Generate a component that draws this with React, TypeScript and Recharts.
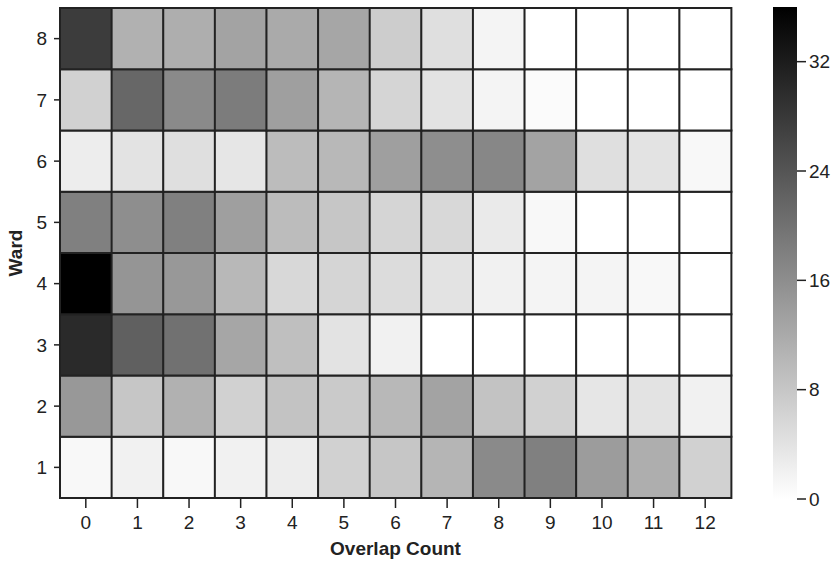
import { BarChart, Bar, Cell, XAxis, YAxis } from 'recharts'

const overlapCounts = [0, 1, 2, 3, 4, 5, 6, 7, 8, 9, 10, 11, 12]
const wards = [1, 2, 3, 4, 5, 6, 7, 8]

// counts per ward, one entry per overlap count 0..12
const ward1 = [1, 2, 1, 2, 2.5, 6.5, 8, 10.5, 16.5, 18, 14, 11.5, 6.5]
const ward2 = [14.5, 8, 11, 6.5, 8.5, 7.5, 10, 13, 8.5, 6.5, 3.5, 4, 2]
const ward3 = [30, 22.5, 20, 12.5, 9, 4, 2, 0, 0, 0, 0, 0, 0]
const ward4 = [36, 15, 14.5, 10, 5.5, 6, 5, 4, 2, 1.5, 1.5, 1, 0]
const ward5 = [18, 16, 18, 13.5, 9.5, 8, 6, 5.5, 3, 1, 0, 0, 0]
const ward6 = [2.5, 4, 4.5, 3.5, 9.5, 10, 13.5, 16, 17, 13, 4.5, 4, 1]
const ward7 = [6.5, 21.5, 16.5, 18.5, 13.5, 10.5, 6, 4, 1.5, 0.5, 0, 0, 0]
const ward8 = [27.5, 11, 11.5, 13, 12, 12.5, 7, 4.5, 1.5, 0, 0, 0, 0]

const wardValues = [ward1, ward2, ward3, ward4, ward5, ward6, ward7, ward8]

const colorbarTicks = [0, 8, 16, 24, 32]
const vmax = 36

const font = '"Liberation Sans", Arial, sans-serif'
const ink = '#222'

function shade(v: number) {
  const g = Math.round(255 * (1 - Math.min(v, vmax) / vmax))
  return `rgb(${g},${g},${g})`
}

// every cell of the grid is one unit of a stacked bar
const gridData = overlapCounts.map((c) => {
  const row: Record<string, number> = { count: c }
  wards.forEach((w) => {
    row[`w${w}`] = 1
  })
  return row
})

const wardTicks = wards.map((w) => w - 0.5)

const colorbarData = [{ name: 'scale', v: vmax }]

export default function App() {
  return (
    <div
      style={{
        position: 'absolute',
        left: 0,
        top: 0,
        width: 834,
        height: 561,
        background: '#fff',
        fontFamily: font,
      }}
    >
      <div style={{ position: 'absolute', left: 0, top: 0 }}>
        <BarChart
          width={834}
          height={561}
          data={gridData}
          margin={{ top: 8, right: 103, bottom: 0, left: 0 }}
          barCategoryGap={0}
          barGap={0}
        >
          <XAxis
            dataKey="count"
            type="category"
            axisLine={false}
            tickSize={10}
            tickMargin={8}
            height={63}
            tickLine={{ stroke: ink, strokeWidth: 1.5 }}
            tick={{ fill: ink, fontSize: 19, fontFamily: font }}
            label={{
              content: ({ viewBox }: any) => (
                <text
                  x={viewBox.x + viewBox.width / 2}
                  y={viewBox.y + 57}
                  textAnchor="middle"
                  fontSize={19}
                  fontWeight="bold"
                  fontFamily={font}
                  fill={ink}
                >
                  Overlap Count
                </text>
              ),
            }}
          />
          <YAxis
            type="number"
            domain={[0, 8]}
            ticks={wardTicks}
            interval={0}
            width={60}
            axisLine={false}
            tickSize={6}
            tickMargin={7}
            tickFormatter={(v) => String(v + 0.5)}
            tickLine={{ stroke: ink, strokeWidth: 1.5 }}
            tick={{ fill: ink, fontSize: 19, fontFamily: font }}
            label={{
              content: ({ viewBox }: any) => {
                const cx = 15
                const cy = viewBox.y + viewBox.height / 2
                return (
                  <text
                    x={cx}
                    y={cy}
                    transform={`rotate(-90 ${cx} ${cy})`}
                    textAnchor="middle"
                    dominantBaseline="central"
                    fontSize={19}
                    fontWeight="bold"
                    fontFamily={font}
                    fill={ink}
                  >
                    Ward
                  </text>
                )
              },
            }}
          />
          {wards.map((w, wi) => (
            <Bar
              key={w}
              dataKey={`w${w}`}
              stackId="grid"
              isAnimationActive={false}
              stroke={ink}
              strokeWidth={2}
            >
              {overlapCounts.map((c, ci) => (
                <Cell key={c} fill={shade(wardValues[wi][ci])} />
              ))}
            </Bar>
          ))}
        </BarChart>
      </div>

      <div style={{ position: 'absolute', left: 760, top: 0 }}>
        <BarChart
          width={74}
          height={561}
          data={colorbarData}
          margin={{ top: 7, right: 0, bottom: 62, left: 13 }}
          barCategoryGap={0}
        >
          <defs>
            <linearGradient id="cbar" x1="0" y1="0" x2="0" y2="1">
              <stop offset="0%" stopColor="#000" />
              <stop offset="100%" stopColor="#fff" />
            </linearGradient>
          </defs>
          <XAxis dataKey="name" hide />
          <YAxis
            orientation="right"
            type="number"
            domain={[0, vmax]}
            ticks={colorbarTicks}
            interval={0}
            width={37}
            axisLine={false}
            tickSize={9}
            tickMargin={3}
            tickLine={{ stroke: ink, strokeWidth: 1.5 }}
            tick={{ fill: ink, fontSize: 19, fontFamily: font }}
          />
          <Bar dataKey="v" fill="url(#cbar)" isAnimationActive={false} />
        </BarChart>
      </div>
    </div>
  )
}
